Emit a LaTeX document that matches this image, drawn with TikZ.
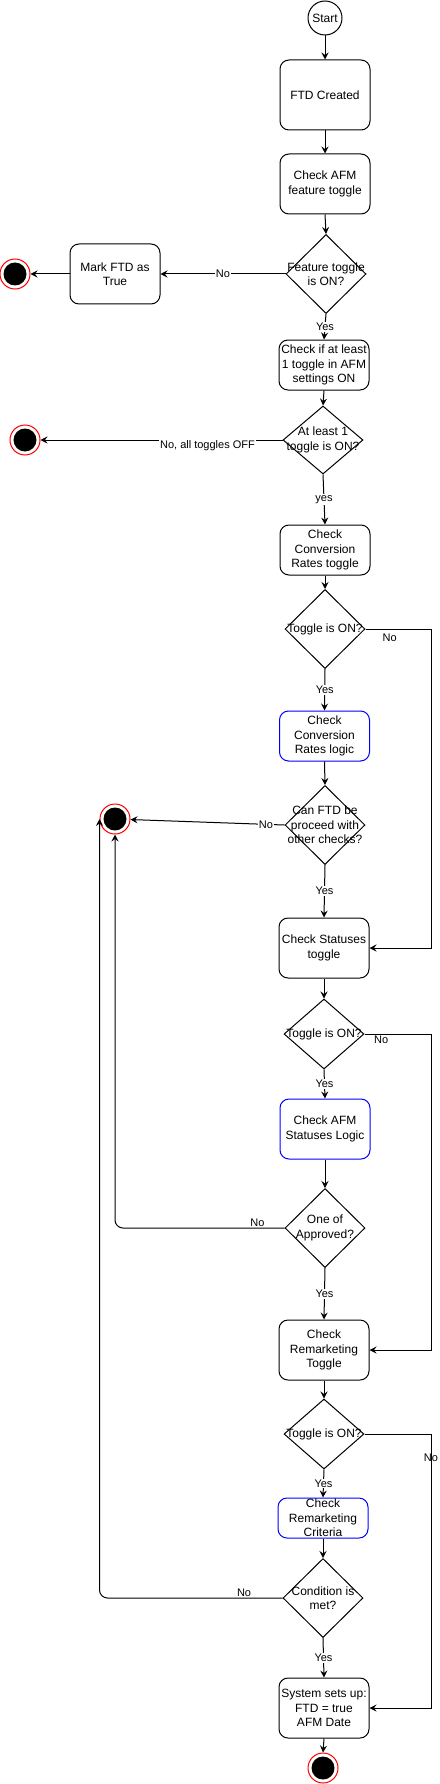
\documentclass[tikz,border=0pt]{standalone}
\usepackage{fontspec}
\setmainfont{Liberation Sans}
\usetikzlibrary{shapes.geometric,arrows.meta}

\begin{document}
\begin{tikzpicture}[x=1pt,y=-1pt,
    font=\fontsize{12}{14.5}\selectfont,
    box/.style={draw, rounded corners=9pt, minimum width=90pt, align=center, inner sep=1pt, line width=1pt},
    logic/.style={box, draw=blue},
    decision/.style={draw, diamond, minimum width=80pt, minimum height=79pt, inner sep=0pt, line width=1pt},
    endpt/.style={circle, draw=red, fill=white, minimum size=30pt, inner sep=0pt, line width=1pt,
      path picture={\fill[black] (path picture bounding box.center) circle (11.5pt);}},
    arr/.style={-{Stealth[length=7pt,width=7pt,inset=2.5pt]}, line width=1pt},
    lbl/.style={font=\fontsize{11}{13}\selectfont, fill=white, inner sep=1pt}]
    \useasboundingbox (0,0) rectangle (439,1784);
    \coordinate (rail) at (431,0);

    \node[draw, circle, minimum size=34pt, inner sep=0pt, line width=1pt] (start) at (325,18) {Start};
    \node[box, minimum height=70pt] (created) at (325,95) {FTD Created};
    \node[box, minimum height=60pt] (afmtog) at (325,184) {Check AFM\\feature toggle};
    \node[decision, label={[align=center]center:Feature toggle\\is ON?}] (d1) at (326,274) {};
    \node[box, minimum height=60pt] (mark) at (115,274) {Mark FTD as\\True};
    \node[endpt] (end1) at (15,274) {};
    \node[box, minimum height=50pt] (chkone) at (324,365) {Check if at least\\1 toggle in AFM\\settings ON};
    \node[decision, minimum height=68pt, label={[align=center]center:At least 1\\toggle is ON?}] (d2) at (323,440) {};
    \node[endpt] (end2) at (25,440) {};
    \node[box, minimum height=50pt] (convtog) at (325,550) {Check\\Conversion\\Rates toggle};
    \node[decision, label={center:Toggle is ON?}] (d3) at (325,629) {};
    \node[logic, minimum height=50pt] (convlogic) at (324.5,736) {Check\\Conversion\\Rates logic};
    \node[decision, label={[align=center]center:Can FTD be\\proceed with\\other checks?}] (d4) at (325,825) {};
    \node[endpt] (end3) at (115,819) {};
    \node[box, minimum height=60pt] (stattog) at (324,948) {Check Statuses\\toggle};
    \node[decision, minimum height=70pt, label={center:Toggle is ON?}] (d5) at (324,1034) {};
    \node[logic, minimum height=60pt] (afmlogic) at (325,1129) {Check AFM\\Statuses Logic};
    \node[decision, label={[align=center]center:One of\\Approved?}] (d6) at (325,1228) {};
    \node[box, minimum height=60pt] (remtog) at (324,1350) {Check\\Remarketing\\Toggle};
    \node[decision, minimum height=70pt, label={center:Toggle is ON?}] (d7) at (324,1434) {};
    \node[logic, minimum height=40pt, label={[align=center]center:Check\\Remarketing\\Criteria}] (remcrit) at (323,1518) {};
    \node[decision, label={[align=center]center:Condition is\\met?}] (d8) at (323,1598) {};
    \node[box, minimum height=60pt] (final) at (324,1708) {System sets up:\\FTD = true\\AFM Date};
    \node[endpt] (stop) at (323,1768) {};

    \foreach \a/\b in {start/created, created/afmtog, afmtog/d1, chkone/d2, convtog/d3, convlogic/d4, stattog/d5, afmlogic/d6, remtog/d7, remcrit/d8, final/stop}
    \draw[arr] (\a.south) -- (\b.north);
    \foreach \a/\b/\t in {d1/chkone/Yes, d2/convtog/yes, d3/convlogic/Yes, d4/stattog/Yes, d5/afmlogic/Yes, d6/remtog/Yes, d7/remcrit/Yes, d8/final/Yes}
    \draw[arr] (\a.south) -- node[lbl] {\t} (\b.north);

    \draw[arr] (d1.west) -- node[lbl] {No} (mark.east);
    \draw[arr] (mark.west) -- (end1.east);
    \draw[arr] (d2.west) -- node[lbl, pos=0.31, yshift=-6pt] {No, all toggles OFF} (end2.east);
    \draw[arr] (d3.east) -- node[lbl, fill=none, below, pos=0.37, yshift=-3pt] {No} (d3.east -| rail) |- (stattog.east);
    \draw[arr] (d4.west) -- node[lbl, pos=0.12] {No} (end3);
    \draw[arr] (d5.east) -- node[lbl, fill=none, below, pos=0.25] {No} (d5.east -| rail) |- (remtog.east);
    \draw[arr, rounded corners=8pt] (d6.west) -| node[lbl, fill=none, above, pos=0.08] {No} (end3.south);
    \draw[arr] (d7.east) -- (d7.east -| rail) -- node[lbl, fill=none, pos=0.085] {No} (final.east -| rail) -- (final.east);
    \draw[arr, rounded corners=8pt] (d8.west) -| node[lbl, fill=none, above, pos=0.105] {No} (end3.west);
\end{tikzpicture}
\end{document}
